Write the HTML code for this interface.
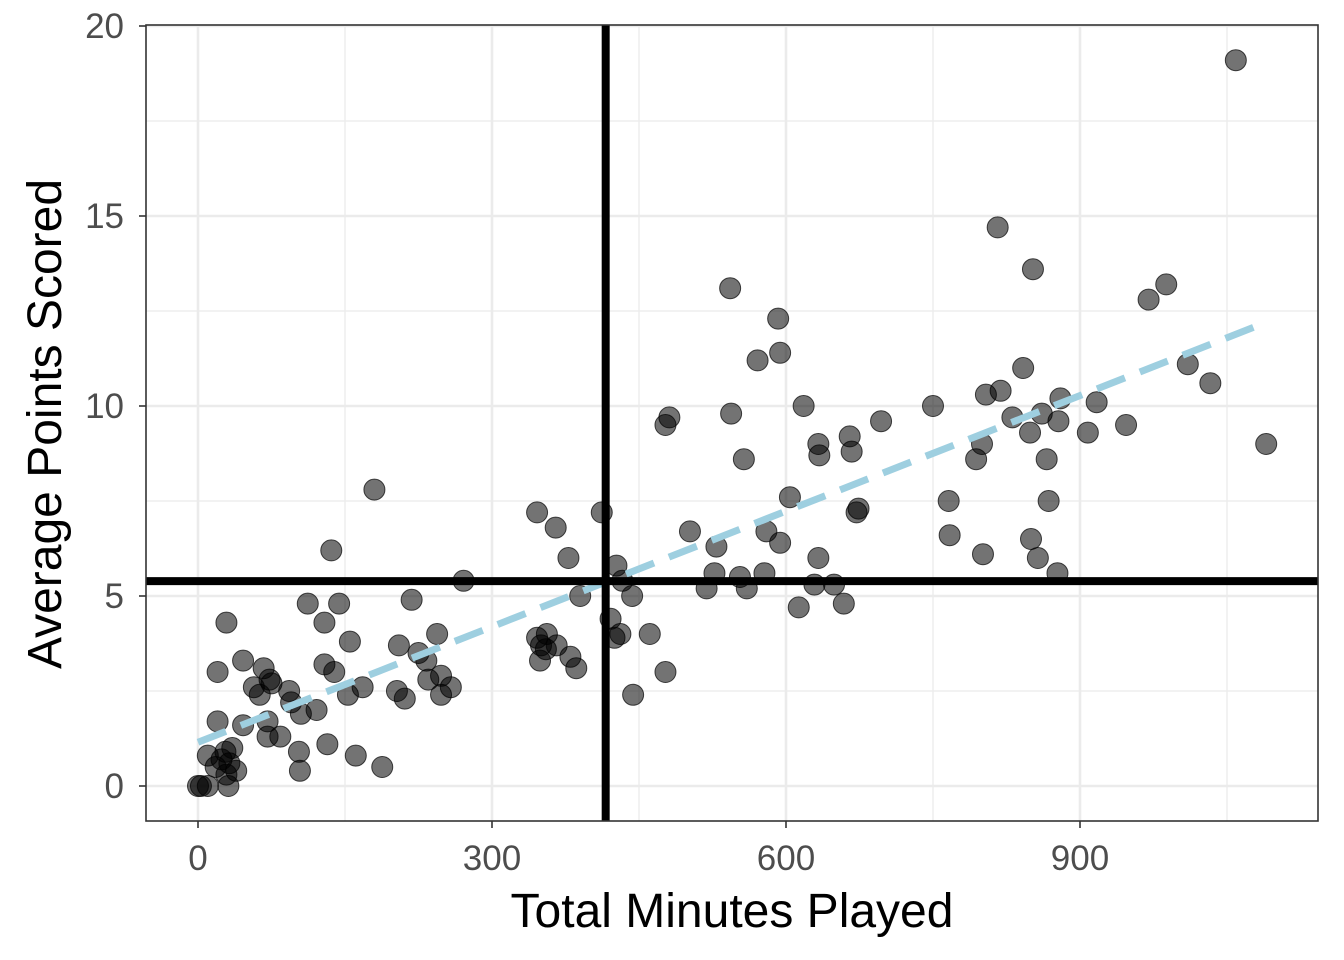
<!DOCTYPE html>
<html><head><meta charset="utf-8"><style>
html,body{margin:0;padding:0;background:#fff;}
svg{display:block;font-family:"Liberation Sans",Arial,sans-serif;}
</style></head><body>
<svg id="chart" width="1344" height="960"></svg>
<script>
const xTicks=[0,300,600,900];
const yTicks=[0,5,10,15,20];
const xMinor=[150,450,750,1050];
const yMinor=[2.5,7.5,12.5,17.5];
const minutes=[1059,816,852,543,988,970,592,594,571,842,1010,1033,804,819,880,917,750,618,544,481,477,831,861,878,908,849,697,947,665,633,800,1090,634,667,557,794,866,604,766,868,180,346,412,672,674,365,580,502,767,529,594,136,850,801,857,633,378,527,578,877,427,553,271,433,560,519,629,649,390,443,613,659,112,144,218,29,129,421,244,356,431,461,346,425,155,205,366,350,355,225,380,233,46,349,129,67,386,139,20,477,248,235,73,75,57,168,258,93,203,63,153,248,444,211,95,105,121,71,20,46,71,84,132,35,103,161,10,24,32,39,104,188,29,0,3,10,31,28,18];
const points=[19.1,14.7,13.6,13.1,13.2,12.8,12.3,11.4,11.2,11.0,11.1,10.6,10.3,10.4,10.2,10.1,10.0,10.0,9.8,9.7,9.5,9.7,9.8,9.6,9.3,9.3,9.6,9.5,9.2,9.0,9.0,9.0,8.7,8.8,8.6,8.6,8.6,7.6,7.5,7.5,7.8,7.2,7.2,7.2,7.3,6.8,6.7,6.7,6.6,6.3,6.4,6.2,6.5,6.1,6.0,6.0,6.0,5.6,5.6,5.6,5.8,5.5,5.4,5.4,5.2,5.2,5.3,5.3,5.0,5.0,4.7,4.8,4.8,4.8,4.9,4.3,4.3,4.4,4.0,4.0,4.0,4.0,3.9,3.9,3.8,3.7,3.7,3.7,3.6,3.5,3.4,3.3,3.3,3.3,3.2,3.1,3.1,3.0,3.0,3.0,2.9,2.8,2.8,2.7,2.6,2.6,2.6,2.5,2.5,2.4,2.4,2.4,2.4,2.3,2.2,1.9,2.0,1.7,1.7,1.6,1.3,1.3,1.1,1.0,0.9,0.8,0.8,0.7,0.6,0.4,0.4,0.5,0.3,0,0,0,0,0.9,0.5];
const meanMinutes=[416];
const meanPoints=[5.39];
const fitX=[0,1080];
const fitY=[1.15,12.1];

const NS="http://www.w3.org/2000/svg";
const svg=document.getElementById('chart');
const X=v=>198+v*0.98;
const Y=v=>786-v*38;
function mk(tag,attrs,parent){const e=document.createElementNS(NS,tag);for(const k in attrs)e.setAttribute(k,attrs[k]);(parent||svg).appendChild(e);return e;}
const L=146,R=1318,T=25,B=821;
let e=mk('rect',{x:L,y:T,width:R-L,height:B-T,fill:'#fff'});


const grid=mk('g',{});


xMinor.forEach(v=>mk('line',{x1:X(v),x2:X(v),y1:T,y2:B,stroke:'#ebebeb','stroke-width':1.3},grid));
yMinor.forEach(v=>mk('line',{x1:L,x2:R,y1:Y(v),y2:Y(v),stroke:'#ebebeb','stroke-width':1.3},grid));
xTicks.forEach(v=>mk('line',{x1:X(v),x2:X(v),y1:T,y2:B,stroke:'#ebebeb','stroke-width':2.6},grid));
yTicks.forEach(v=>mk('line',{x1:L,x2:R,y1:Y(v),y2:Y(v),stroke:'#ebebeb','stroke-width':2.6},grid));
const pg=mk('g',{});


minutes.forEach((m,i)=>{const c=mk('circle',{cx:X(m),cy:Y(points[i]),r:10.5,fill:'rgba(0,0,0,0.55)',stroke:'rgba(0,0,0,0.7)','stroke-width':1},pg);

});
e=mk('line',{x1:X(fitX[0]),y1:Y(fitY[0]),x2:X(fitX[1]),y2:Y(fitY[1]),stroke:'#9ecfe0','stroke-width':7,'stroke-dasharray':'30 16'});


e=mk('line',{x1:X(meanMinutes[0]),x2:X(meanMinutes[0]),y1:T,y2:B,stroke:'#000','stroke-width':8});


e=mk('line',{x1:L,x2:R,y1:Y(meanPoints[0]),y2:Y(meanPoints[0]),stroke:'#000','stroke-width':8});


e=mk('rect',{x:L,y:T,width:R-L,height:B-T,fill:'none',stroke:'#333','stroke-width':1.6});


xTicks.forEach(v=>{mk('line',{x1:X(v),x2:X(v),y1:B,y2:B+7,stroke:'#333','stroke-width':1.6});
const t=mk('text',{x:X(v),y:B+49,'text-anchor':'middle','font-size':35,fill:'#4d4d4d'});t.textContent=v;

});
yTicks.forEach(v=>{mk('line',{x1:L-7,x2:L,y1:Y(v),y2:Y(v),stroke:'#333','stroke-width':1.6});
const t=mk('text',{x:L-22,y:Y(v)+12,'text-anchor':'end','font-size':35,fill:'#4d4d4d'});t.textContent=v;

});
e=mk('text',{x:732,y:927,'text-anchor':'middle','font-size':48,fill:'#000'});e.textContent='Total Minutes Played';


e=mk('text',{x:0,y:0,'text-anchor':'middle','font-size':48,fill:'#000',transform:'translate(61,424) rotate(-90)'});e.textContent='Average Points Scored';


</script>
</body></html>
